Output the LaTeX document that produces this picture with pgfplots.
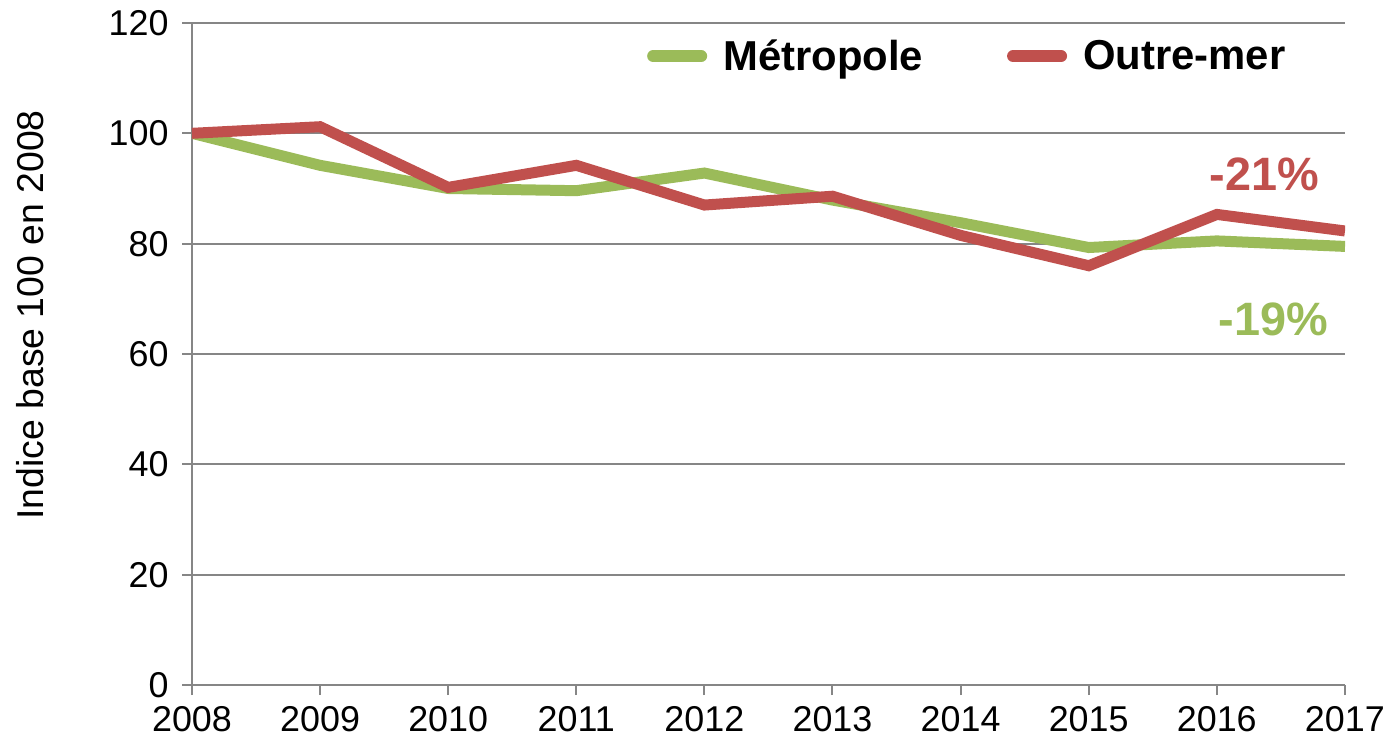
\documentclass[border=0pt]{standalone}
\usepackage{fontspec}
\setmainfont{Liberation Sans}
\usepackage{pgfplots}
\usepackage{pgfplotstable}
\pgfplotsset{compat=1.18}
\definecolor{metro}{HTML}{9BBB59}
\definecolor{outre}{HTML}{C0504D}
\definecolor{grille}{HTML}{868686}

% indice base 100 en 2008
\pgfplotstableread{
annee metro outre
2008 100.0 100.0
2009 94.2 101.2
2010 90.0 90.2
2011 89.6 94.2
2012 92.8 87.0
2013 87.9 88.6
2014 83.8 81.5
2015 79.3 76.0
2016 80.5 85.3
2017 79.5 82.3
}\donnees

\begin{document}
\begin{tikzpicture}
\begin{axis}[
  scale only axis, width=1153bp, height=662bp,
  xmin=2008, xmax=2017, ymin=0, ymax=120,
  xtick={2008,...,2017}, ytick={0,20,...,120},
  axis x line*=bottom, axis y line*=left,
  axis line style={grille, line width=2bp, -},
  ymajorgrids, grid style={grille, line width=1.8bp},
  tick align=outside, major tick length=10bp,
  tick style={grille, line width=2bp},
  ticklabel style={font=\fontsize{36}{43}\selectfont},
  /pgf/number format/assume math mode=true,
  /pgf/number format/1000 sep={},
  xticklabel style={yshift=-8bp},
  yticklabel style={xshift=-10bp},
  ylabel={Indice base 100 en 2008},
  ylabel style={font=\fontsize{37.5}{45}\selectfont, at={(axis description cs:-0.1405,0.559)}, anchor=center},
  legend columns=2,
  legend style={draw=none, fill=none, at={(axis description cs:0.392,0.950)}, anchor=west,
    font=\fontsize{42}{50}\bfseries, nodes={inner sep=0pt},
    /tikz/every odd column/.append style={column sep=16bp},
    /tikz/every even column/.append style={column sep=84bp}},
  legend image code/.code={\draw[#1, line width=12bp, line cap=round] (6bp,0) -- (54bp,0);},
]
\addplot[metro, line width=11bp] table[x=annee, y=metro] {\donnees};
\addlegendentry{Métropole}
\addplot[outre, line width=11bp] table[x=annee, y=outre] {\donnees};
\addlegendentry{Outre-mer}
\node[outre, font=\fontsize{47}{56}\bfseries] at (axis cs:2016.37,92.6) {-21\%};
\node[metro, font=\fontsize{47}{56}\bfseries] at (axis cs:2016.44,66.3) {-19\%};
\end{axis}
\path ([xshift=-192bp,yshift=-60bp]current axis.south west) rectangle ([xshift=50bp,yshift=23bp]current axis.north east);
\end{tikzpicture}
\end{document}
